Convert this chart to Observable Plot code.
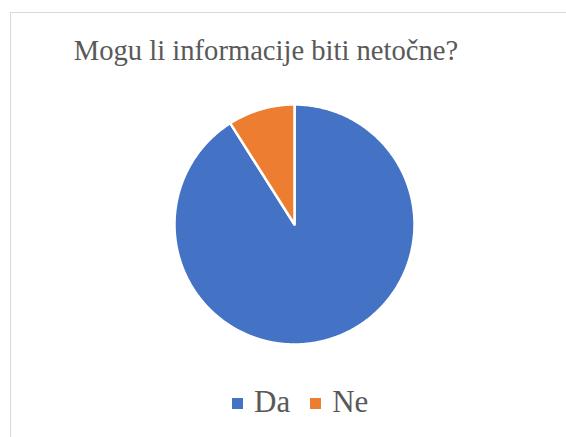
<!DOCTYPE html>
<html>
<head>
<meta charset="utf-8">
<script src="https://cdn.jsdelivr.net/npm/d3@7"></script>
<script src="https://cdn.jsdelivr.net/npm/@observablehq/plot@0.6"></script>
<style>
  html, body { margin: 0; padding: 0; background: #fff; }
  #chart { position: relative; width: 566px; height: 437px; overflow: hidden; }
  .bl { position: absolute; left: 10px; top: 12px; width: 1px; height: 425px; background: #d9d9d9; }
  .bt { position: absolute; left: 10px; top: 12px; width: 556px; height: 1px; background: #d9d9d9; }
  #title { position: absolute; left: 0; top: 37px; width: 532px; text-align: center; font-family: 'Liberation Serif'; font-size: 28.6px; line-height: 28px; color: #595959; white-space: nowrap; }
  #pie { position: absolute; left: 173px; top: 103px; }
  #legend { position: absolute; left: 232px; top: 386px; display: flex; align-items: center; font-family: 'Liberation Serif'; font-size: 31px; line-height: 31px; color: #595959; }
  .sw { width: 11px; height: 11px; margin-right: 11px; margin-top: 4px; }
  .lab { margin-right: 20px; font-family: 'Liberation Serif'; }
</style>
</head>
<body>
<div id="chart">
  <div class="bl"></div><div class="bt"></div>
  <div id="title">Mogu li informacije biti netočne?</div>
  <div id="pie"></div>
  <div id="legend"></div>
</div>
<script>
const categories = ["Da", "Ne"];
const values = [91, 9];
const colors = ["#4472C4", "#ED7D31"];

// slice angles (Excel style: start at 12 o'clock, clockwise)
const arcs = d3.pie().sort(null).value(d => d)(values);
const pts = [];
arcs.forEach((a, i) => {
  const cat = categories[i];
  const n = Math.max(2, Math.ceil((a.endAngle - a.startAngle) / 0.01));
  pts.push({cat, x: 0, y: 0});
  for (let k = 0; k <= n; k++) {
    const t = a.startAngle + (a.endAngle - a.startAngle) * k / n;
    pts.push({cat, x: Math.sin(t), y: Math.cos(t)});
  }
  pts.push({cat, x: 0, y: 0});
});

const size = 242;
const svg = Plot.plot({
  width: size, height: size,
  margin: 1,
  x: {domain: [-1, 1], axis: null},
  y: {domain: [-1, 1], axis: null},
  color: {domain: categories, range: colors},
  marks: [
    Plot.line(pts, {x: "x", y: "y", z: "cat", fill: "cat", stroke: "white", strokeWidth: 2.5, strokeLinejoin: "round", curve: "linear"})
  ]
});
document.getElementById("pie").appendChild(svg);

const leg = document.getElementById("legend");
categories.forEach((c, i) => {
  const sw = document.createElement("div");
  sw.className = "sw"; sw.style.background = colors[i];
  const lab = document.createElement("span");
  lab.className = "lab"; lab.textContent = c;
  leg.appendChild(sw); leg.appendChild(lab);
});
</script>
</body>
</html>
